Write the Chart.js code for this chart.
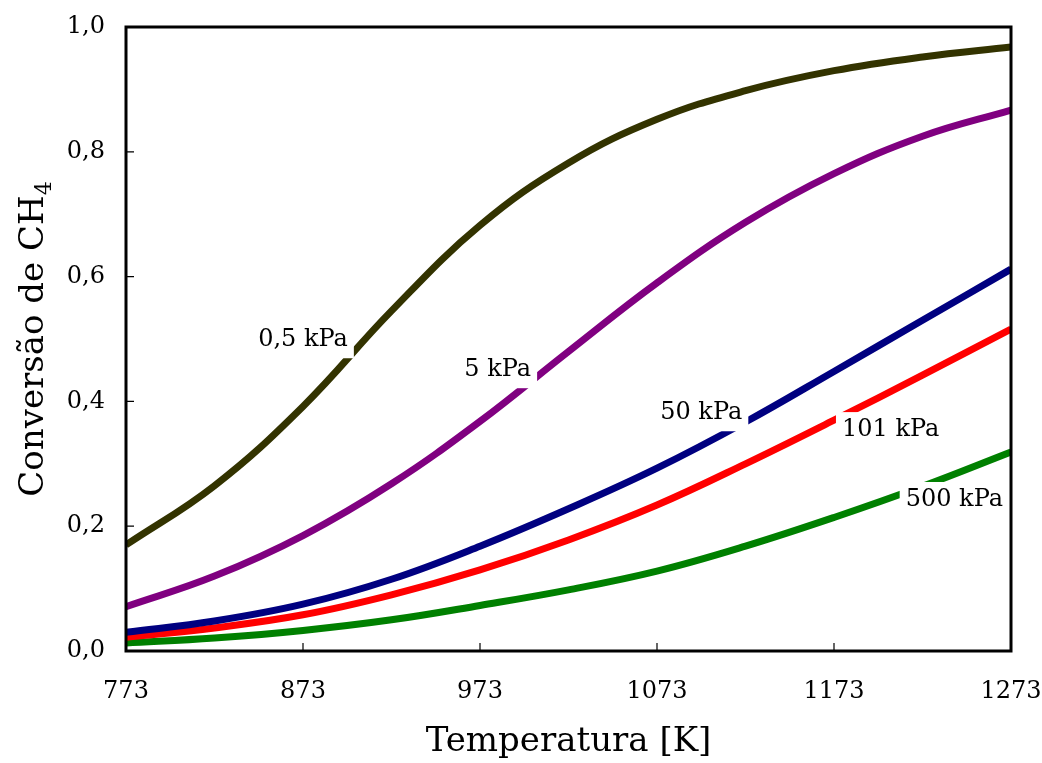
<!DOCTYPE html>
<html lang="pt">
<head>
    <meta charset="UTF-8">
    <title>Conversão de CH4</title>
    <script src="https://cdn.jsdelivr.net/npm/chart.js"></script>
    <style>
        html, body { margin: 0; padding: 0; background: #fff; }
        #wrap { width: 1042px; height: 763px; }
    </style>
</head>
<body>
<div id="wrap"><canvas id="grafico" width="1042" height="763"></canvas></div>
<script>
    // temperaturas (K)
    const temps = [773, 823, 873, 923, 973, 1023, 1073, 1123, 1173, 1223, 1273];

    // conversão de CH4 para cada pressão
    const conv05  = [0.170, 0.265, 0.392, 0.545, 0.682, 0.782, 0.852, 0.898, 0.930, 0.952, 0.968];
    const conv5   = [0.071, 0.120, 0.185, 0.268, 0.368, 0.480, 0.590, 0.687, 0.765, 0.825, 0.867];
    const conv50  = [0.030, 0.048, 0.075, 0.115, 0.168, 0.228, 0.293, 0.367, 0.448, 0.530, 0.612];
    const conv101 = [0.022, 0.037, 0.058, 0.090, 0.130, 0.178, 0.234, 0.300, 0.370, 0.442, 0.516];
    const conv500 = [0.013, 0.021, 0.033, 0.050, 0.073, 0.098, 0.128, 0.168, 0.214, 0.264, 0.319];

    const nomes = ['0,5 kPa', '5 kPa', '50 kPa', '101 kPa', '500 kPa'];
    const series = [conv05, conv5, conv50, conv101, conv500];
    const cores = ['#333300', '#800080', '#000080', '#ff0000', '#008000'];

    // onde fica cada rótulo (em coordenadas de dados)
    const rotuloT = [873, 983, 1098, 1205, 1241];
    const rotuloX = [0.498, 0.450, 0.381, 0.354, 0.242];

    const FONTE = '"DejaVu Serif", serif';

    const pontos = s => temps.map((t, i) => ({ x: t, y: s[i] }));

    // tira as folgas que o Chart.js reserva para os rótulos das pontas
    const semFolga = scale => {
        scale.paddingLeft = 0;
        scale.paddingRight = 0;
        scale.paddingTop = 0;
        scale.paddingBottom = 0;
    };

    // caixa, marcas internas, rótulos das curvas e título do eixo y
    const extras = {
        id: 'extras',
        afterDatasetsDraw(chart) {
            const { ctx, chartArea: a, scales } = chart;
            const sx = scales.x, sy = scales.y;

            // rótulos com fundo branco
            ctx.save();
            ctx.font = '24px ' + FONTE;
            ctx.textAlign = 'center';
            ctx.textBaseline = 'middle';
            nomes.forEach((n, i) => {
                const px = sx.getPixelForValue(rotuloT[i]);
                const py = sy.getPixelForValue(rotuloX[i]);
                const w = ctx.measureText(n).width;
                ctx.fillStyle = '#fff';
                ctx.fillRect(px - w / 2 - 6, py - 18, w + 12, 36);
                ctx.fillStyle = '#000';
                ctx.fillText(n, px, py);
            });
            ctx.restore();

            // marcas para dentro
            ctx.save();
            ctx.strokeStyle = '#000';
            ctx.lineWidth = 1.2;
            ctx.beginPath();
            sx.ticks.forEach(t => {
                const px = sx.getPixelForValue(t.value);
                ctx.moveTo(px, a.bottom);
                ctx.lineTo(px, a.bottom - 8);
            });
            sy.ticks.forEach(t => {
                const py = sy.getPixelForValue(t.value);
                ctx.moveTo(a.left, py);
                ctx.lineTo(a.left + 8, py);
            });
            ctx.stroke();

            // caixa
            ctx.lineWidth = 3;
            ctx.strokeRect(a.left, a.top, a.right - a.left, a.bottom - a.top);
            ctx.restore();

            // título do eixo y com subscrito
            ctx.save();
            const cy = (a.top + a.bottom) / 2;
            ctx.translate(34, cy);
            ctx.rotate(-Math.PI / 2);
            ctx.fillStyle = '#000';
            ctx.textBaseline = 'middle';
            ctx.font = '34px ' + FONTE;
            const base = 'Conversão de CH';
            const wb = ctx.measureText(base).width;
            ctx.font = '22px ' + FONTE;
            const ws = ctx.measureText('4').width;
            const x0 = -(wb + ws) / 2;
            ctx.font = '34px ' + FONTE;
            ctx.textAlign = 'left';
            ctx.fillText(base, x0, 0);
            ctx.font = '22px ' + FONTE;
            ctx.fillText('4', x0 + wb, 11);
            ctx.restore();
        }
    };

    new Chart(document.getElementById('grafico'), {
        type: 'line',
        data: {
            datasets: series.map((s, i) => ({
                label: nomes[i],
                data: pontos(s),
                borderColor: cores[i],
                borderWidth: 7,
                pointRadius: 0,
                fill: false,
                tension: 0.4
            }))
        },
        options: {
            responsive: false,
            animation: false,
            layout: { padding: { top: 27, right: 31, left: 0, bottom: 0 } },
            plugins: {
                legend: { display: false },
                tooltip: { enabled: false }
            },
            scales: {
                x: {
                    type: 'linear',
                    min: 773,
                    max: 1273,
                    grid: { display: false },
                    border: { display: false },
                    ticks: {
                        stepSize: 100,
                        padding: 18,
                        color: '#000',
                        font: { family: FONTE, size: 24 },
                        maxRotation: 0,
                        callback: v => String(v)
                    },
                    title: {
                        display: true,
                        text: 'Temperatura [K]',
                        color: '#000',
                        font: { family: FONTE, size: 34 },
                        padding: 0
                    },
                    afterFit(scale) { scale.height = 112; semFolga(scale); }
                },
                y: {
                    min: 0,
                    max: 1,
                    grid: { display: false },
                    border: { display: false },
                    ticks: {
                        stepSize: 0.2,
                        padding: 13,
                        color: '#000',
                        font: { family: FONTE, size: 24 },
                        callback: v => v.toFixed(1).replace('.', ',')
                    },
                    afterFit(scale) { scale.width = 126; semFolga(scale); }
                }
            }
        },
        plugins: [extras]
    });
</script>
</body>
</html>
